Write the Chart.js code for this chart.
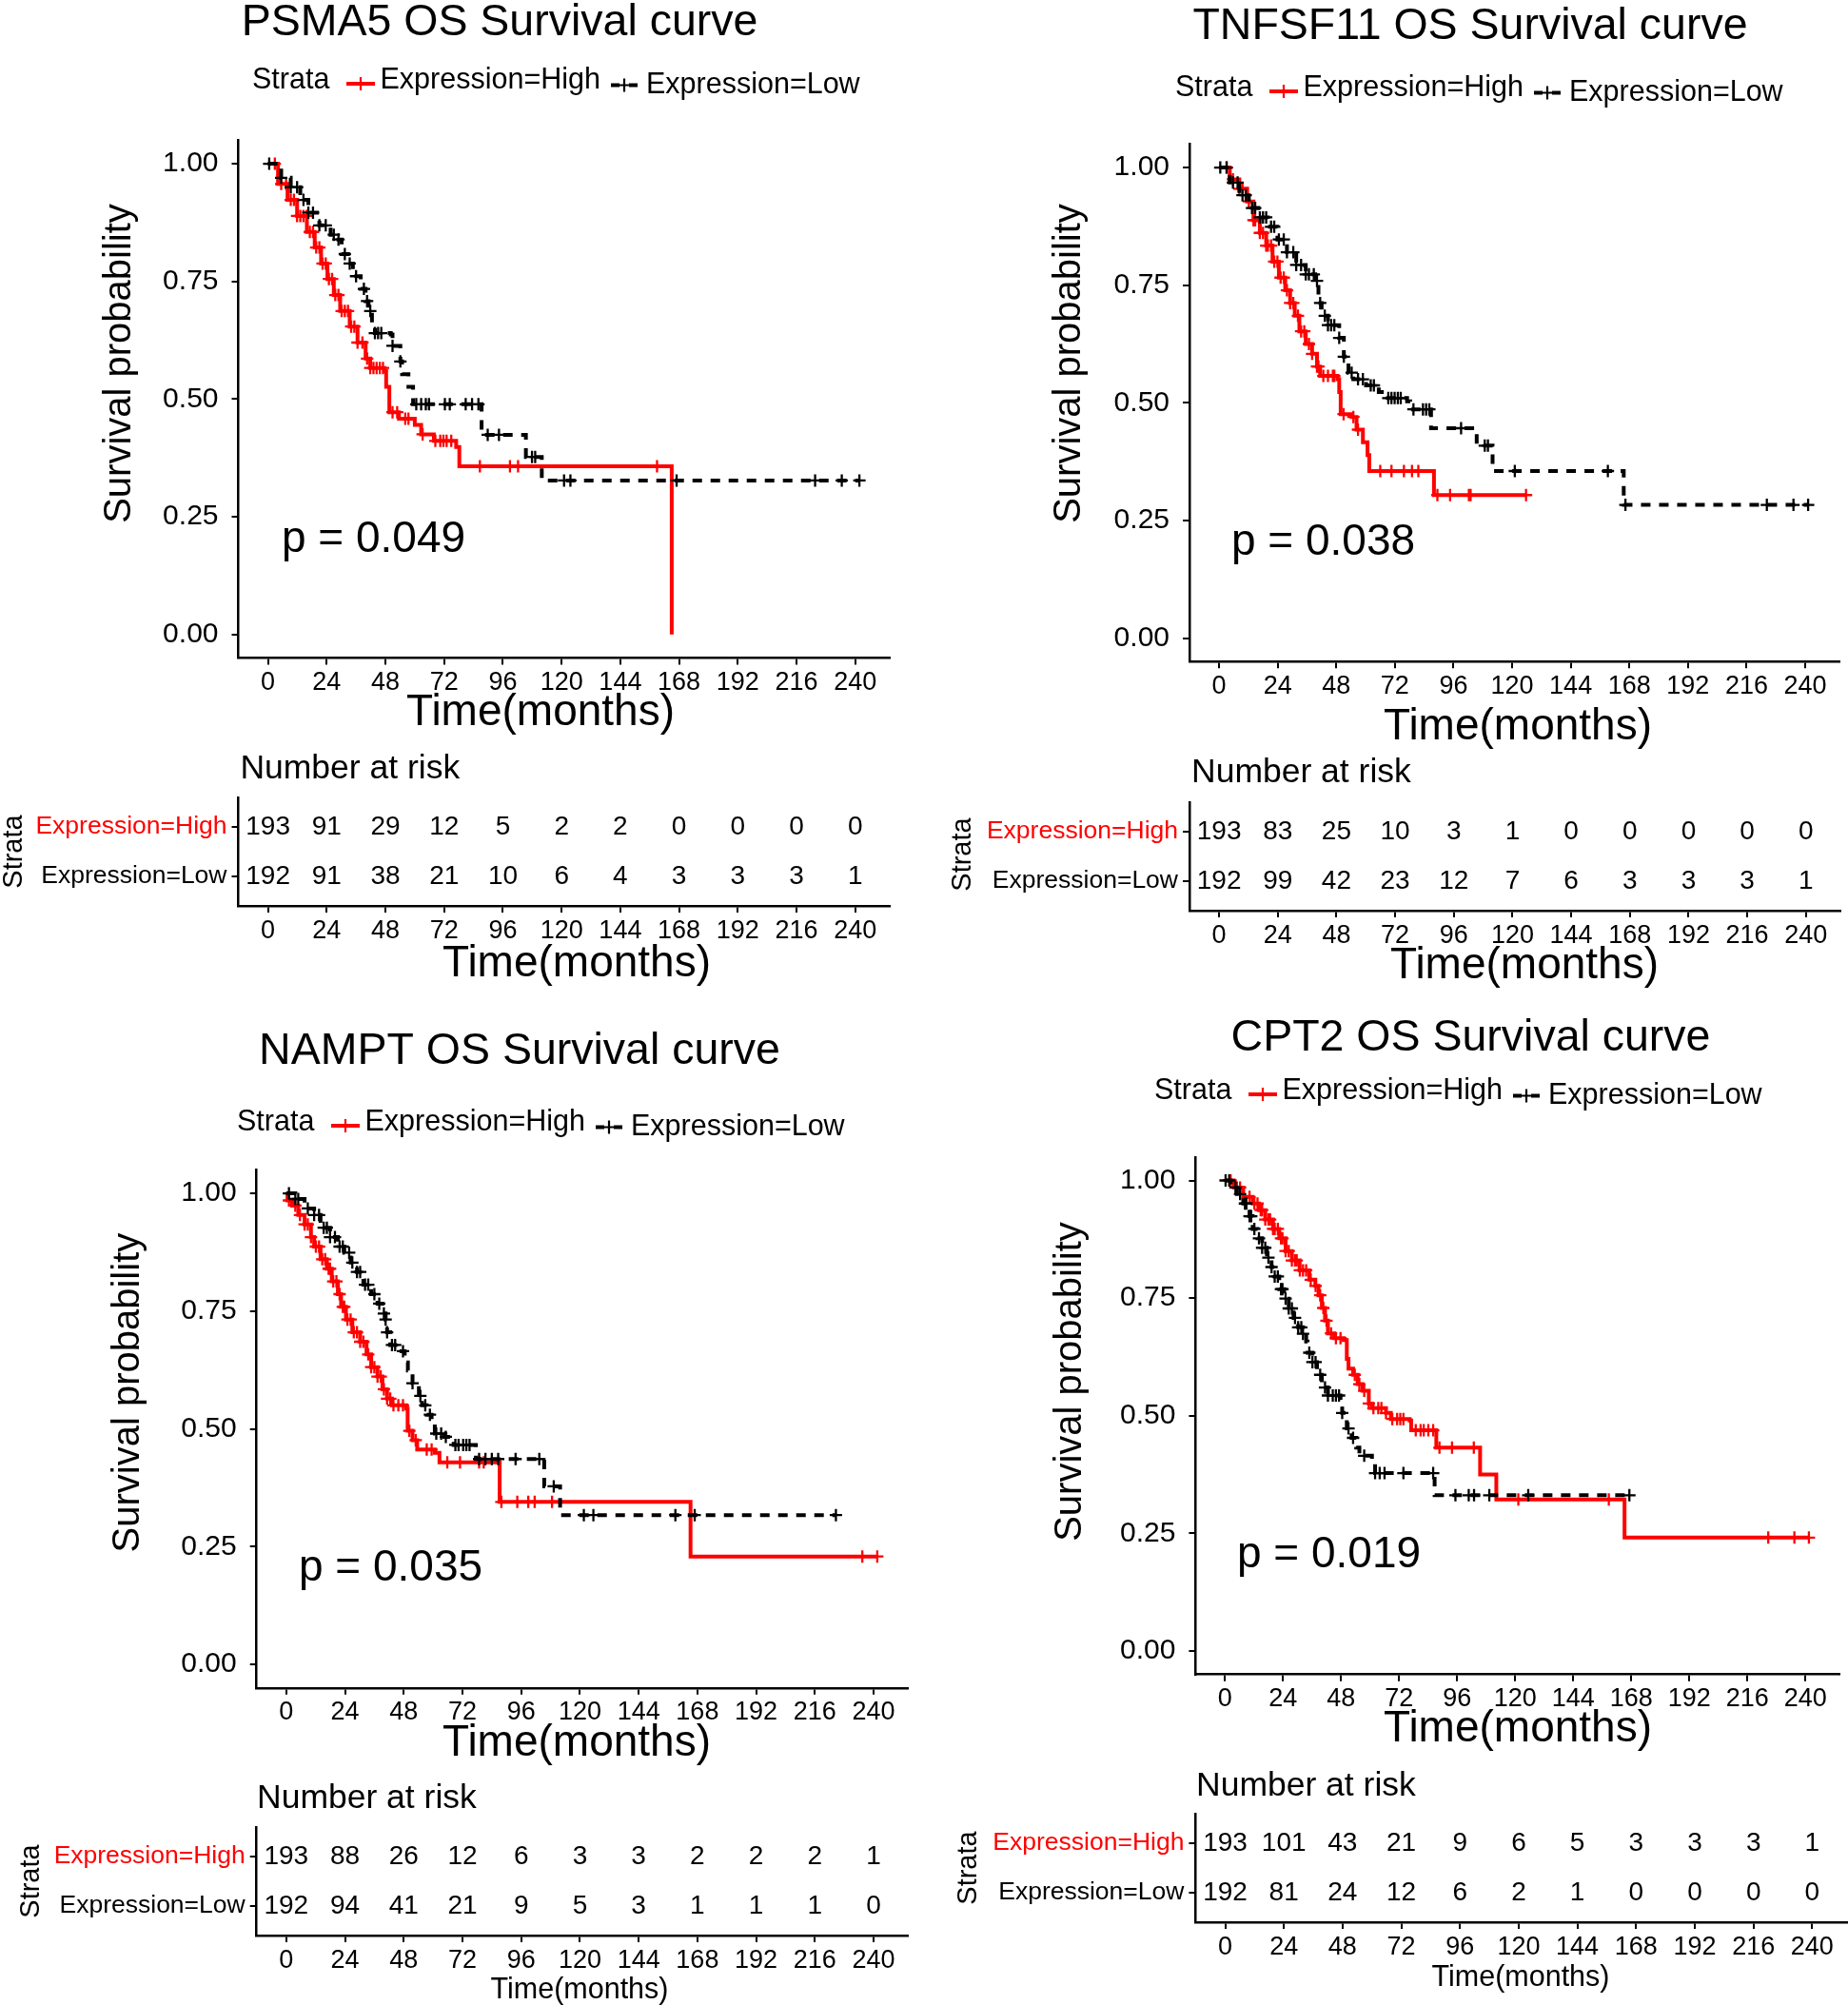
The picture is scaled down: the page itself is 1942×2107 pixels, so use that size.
<!DOCTYPE html>
<html><head><meta charset="utf-8">
<script src="https://cdn.jsdelivr.net/npm/chart.js@4.4.1/dist/chart.umd.min.js"></script>
<style>
html,body{margin:0;padding:0;background:#fff;}
body{width:1942px;height:2107px;position:relative;overflow:hidden;}
canvas{position:absolute;}
</style></head><body>
<script>
// ---------- shared tick / label data ----------
const timeTicks = [0, 24, 48, 72, 96, 120, 144, 168, 192, 216, 240];
const survTicks = [0, 0.25, 0.5, 0.75, 1];
const survLabels = ['0.00', '0.25', '0.50', '0.75', '1.00'];
const strataLabels = ['Expression=High', 'Expression=Low'];

// ---------- PSMA5 ----------
const p1HighT = [0, 4.1, 8.0, 11.9, 15.9, 19.1, 21.7, 24.3, 26.9, 29.5, 33.4, 36.6, 39.9, 41.8, 47.6, 48.3, 49.6, 53.5, 60.0, 62.6, 67.8, 76.9, 78.2, 165];
const p1HighS = [1, 0.957, 0.923, 0.889, 0.855, 0.822, 0.788, 0.755, 0.721, 0.687, 0.654, 0.620, 0.586, 0.566, 0.560, 0.526, 0.472, 0.458, 0.445, 0.425, 0.411, 0.398, 0.357, 0];
const p1HighC = [2.8, 5.4, 7.4, 9.3, 10.6, 11.9, 13.2, 14.5, 15.8, 17.1, 18.4, 19.7, 21.0, 22.3, 23.6, 24.9, 26.2, 27.5, 28.8, 30.1, 31.4, 32.7, 34.0, 35.3, 36.6, 38.6, 40.5, 41.8, 43.1, 44.4, 45.7, 47.0, 50.9, 52.8, 56.1, 57.4, 63.2, 68.4, 70.4, 71.7, 73.0, 74.9, 86.6, 98.9, 102.2, 159];
const p1LowT = [0, 5.4, 9.3, 13.2, 16.5, 21.0, 25.6, 28.8, 30.1, 32.7, 34.7, 37.9, 39.9, 41.1, 42.5, 43.7, 50.2, 50.9, 54.1, 54.8, 57.4, 59.3, 87.3, 105.4, 111.9, 241.7];
const p1LowS = [1, 0.970, 0.950, 0.923, 0.896, 0.869, 0.849, 0.839, 0.808, 0.788, 0.761, 0.734, 0.708, 0.687, 0.660, 0.640, 0.637, 0.613, 0.580, 0.553, 0.526, 0.489, 0.424, 0.377, 0.327, 0.327];
const p1LowC = [0.5, 5.4, 9.3, 11.9, 14.5, 16.5, 18.4, 21.0, 23.6, 26.9, 28.8, 31.4, 33.4, 36.0, 39.2, 40.5, 41.8, 43.7, 45.0, 46.3, 50.9, 54.1, 60.6, 62.6, 64.5, 65.8, 72.3, 74.3, 80.8, 83.4, 86.0, 89.8, 94.4, 107.9, 109.2, 121.0, 123.6, 167, 223.6, 234.5, 241.7];
const p1RiskHigh = [193, 91, 29, 12, 5, 2, 2, 0, 0, 0, 0];
const p1RiskLow = [192, 91, 38, 21, 10, 6, 4, 3, 3, 3, 1];

// ---------- TNFSF11 ----------
const p2HighT = [0, 4.4, 8.3, 11.5, 14.1, 16.7, 19.3, 21.9, 24.5, 27.1, 29.1, 31.0, 32.9, 35.5, 38.1, 40.1, 41.4, 48.5, 49.2, 49.8, 54.3, 56.3, 58.9, 60.8, 61.5, 88.0, 125.7];
const p2HighS = [1, 0.975, 0.955, 0.928, 0.888, 0.861, 0.834, 0.800, 0.766, 0.739, 0.712, 0.685, 0.652, 0.625, 0.604, 0.577, 0.557, 0.550, 0.523, 0.476, 0.470, 0.443, 0.416, 0.389, 0.355, 0.304, 0.304];
const p2HighC = [3.1, 5.7, 8.3, 9.6, 12.2, 14.1, 14.8, 16.7, 18.0, 19.3, 20.0, 21.3, 22.6, 23.9, 25.2, 26.5, 27.8, 29.1, 30.4, 32.3, 33.6, 34.9, 36.8, 38.1, 40.1, 40.7, 42.7, 44.6, 46.6, 47.2, 51.0, 55.0, 56.9, 66.0, 70.6, 75.7, 79.0, 81.6, 89.4, 94.6, 102.3, 103.0, 125.7];
const p2LowT = [0, 4.4, 8.3, 12.2, 16.1, 20.0, 23.9, 27.8, 31.6, 35.5, 39.4, 40.7, 42.0, 44.6, 49.2, 51.1, 53.0, 55.0, 60.2, 65.4, 68.0, 77.0, 78.3, 86.8, 105.5, 112.0, 165.7, 241.2];
const p2LowS = [1, 0.968, 0.941, 0.914, 0.894, 0.874, 0.847, 0.820, 0.793, 0.773, 0.759, 0.712, 0.685, 0.665, 0.638, 0.598, 0.564, 0.550, 0.537, 0.523, 0.510, 0.503, 0.486, 0.446, 0.409, 0.355, 0.283, 0.283];
const p2LowC = [0.5, 3.1, 5.7, 7.6, 9.6, 10.9, 13.5, 14.8, 16.7, 18.0, 19.3, 21.3, 22.6, 24.5, 26.5, 27.8, 30.4, 31.6, 33.6, 35.5, 36.8, 38.8, 40.1, 41.4, 43.3, 44.6, 45.9, 47.2, 49.2, 51.1, 54.3, 56.9, 58.9, 62.1, 63.4, 69.3, 70.6, 71.9, 73.2, 74.4, 79.6, 83.5, 84.8, 86.1, 99.1, 108.8, 110.1, 121.1, 159.2, 166.4, 224.3, 235.2, 241.2];
const p2RiskHigh = [193, 83, 25, 10, 3, 1, 0, 0, 0, 0, 0];
const p2RiskLow = [192, 99, 42, 23, 12, 7, 6, 3, 3, 3, 1];

// ---------- NAMPT ----------
const p3HighT = [0, 0.5, 2.4, 4.9, 7.5, 10.1, 11.4, 14.0, 16.6, 18.6, 21.1, 22.4, 24.4, 27.0, 30.2, 32.8, 34.7, 37.3, 39.3, 41.2, 43.2, 49.0, 49.6, 51.6, 53.5, 60.7, 62.6, 87.2, 165.2, 241.5];
const p3HighS = [1, 0.985, 0.974, 0.954, 0.934, 0.907, 0.887, 0.860, 0.840, 0.813, 0.786, 0.759, 0.732, 0.705, 0.685, 0.658, 0.631, 0.611, 0.584, 0.564, 0.550, 0.543, 0.496, 0.476, 0.456, 0.449, 0.429, 0.345, 0.229, 0.229];
const p3HighC = [1.1, 3.7, 5.6, 7.5, 8.8, 10.1, 12.1, 13.4, 14.7, 15.9, 17.3, 17.9, 19.2, 20.5, 21.8, 23.1, 23.7, 25.0, 26.3, 27.6, 28.9, 30.2, 31.5, 33.5, 34.7, 36.0, 37.3, 38.6, 39.9, 41.2, 42.5, 43.8, 45.8, 47.7, 50.3, 52.9, 57.4, 59.4, 65.8, 71.0, 78.8, 80.7, 87.9, 94.4, 98.9, 101.5, 108.6, 235.4, 241.5];
const p3LowT = [0, 3.7, 7.5, 11.4, 14.0, 17.9, 21.1, 23.7, 26.3, 28.9, 31.5, 34.7, 37.3, 39.3, 40.6, 41.2, 42.5, 47.1, 48.4, 49.7, 51.6, 54.2, 55.5, 57.4, 59.4, 60.7, 64.6, 68.4, 77.5, 105.4, 111.9, 224.6];
const p3LowS = [1, 0.988, 0.968, 0.954, 0.927, 0.907, 0.887, 0.874, 0.853, 0.833, 0.806, 0.786, 0.766, 0.745, 0.732, 0.705, 0.678, 0.665, 0.641, 0.624, 0.597, 0.570, 0.550, 0.530, 0.516, 0.490, 0.483, 0.466, 0.436, 0.378, 0.317, 0.317];
const p3LowC = [1.1, 3.7, 4.9, 8.8, 11.4, 13.4, 15.3, 16.6, 17.9, 19.9, 21.8, 23.1, 25.7, 27.0, 28.9, 30.2, 32.2, 33.5, 36.0, 38.0, 39.9, 40.6, 41.2, 43.2, 44.5, 47.7, 51.6, 54.8, 56.8, 58.7, 61.3, 63.3, 65.2, 69.1, 70.4, 72.3, 73.6, 74.9, 78.8, 81.4, 84.0, 86.6, 93.7, 103.4, 109.3, 121.6, 125.5, 159, 166.9, 224.6];
const p3RiskHigh = [193, 88, 26, 12, 6, 3, 3, 2, 2, 2, 1];
const p3RiskLow = [192, 94, 41, 21, 9, 5, 3, 1, 1, 1, 0];

// ---------- CPT2 ----------
const p4HighT = [0, 3.7, 7.6, 11.5, 14.1, 16.7, 19.9, 22.5, 25.1, 27.7, 30.9, 34.9, 37.4, 38.7, 40.1, 41.4, 42.6, 45.2, 49.1, 50.4, 51.1, 53.0, 54.9, 56.9, 59.5, 60.8, 66.6, 68.6, 76.4, 77.0, 87.4, 105.5, 112.2, 165.2, 241.4];
const p4HighS = [1, 0.985, 0.965, 0.951, 0.937, 0.917, 0.897, 0.877, 0.850, 0.830, 0.809, 0.789, 0.776, 0.756, 0.729, 0.702, 0.675, 0.665, 0.661, 0.621, 0.600, 0.587, 0.567, 0.553, 0.526, 0.516, 0.506, 0.493, 0.490, 0.469, 0.432, 0.375, 0.322, 0.241, 0.241];
const p4HighC = [2.4, 5.0, 6.3, 10.2, 12.2, 13.5, 14.8, 15.4, 16.7, 18.0, 18.7, 19.9, 20.6, 21.9, 23.2, 23.8, 25.1, 26.4, 27.7, 29.0, 29.7, 31.0, 32.3, 33.6, 35.5, 37.5, 39.4, 40.7, 42.0, 43.9, 45.9, 47.8, 53.7, 55.6, 57.6, 59.5, 61.4, 63.4, 64.7, 66.6, 69.2, 71.2, 72.5, 73.8, 78.9, 80.9, 82.2, 84.1, 86.1, 88.7, 93.9, 102.9, 121.3, 158.7, 224.6, 235.4, 241.4];
const p4LowT = [0, 2.4, 5.0, 7.6, 10.2, 11.5, 13.5, 15.4, 17.4, 19.3, 20.6, 22.5, 24.5, 26.4, 28.4, 30.3, 32.3, 33.6, 34.2, 36.2, 38.1, 40.1, 42.6, 47.8, 48.5, 50.4, 52.4, 54.3, 55.6, 60.8, 62.1, 86.7, 167.2];
const p4LowS = [1, 0.985, 0.971, 0.951, 0.924, 0.897, 0.877, 0.857, 0.836, 0.816, 0.796, 0.769, 0.749, 0.728, 0.708, 0.688, 0.674, 0.658, 0.634, 0.614, 0.587, 0.560, 0.543, 0.530, 0.506, 0.473, 0.453, 0.432, 0.415, 0.402, 0.378, 0.331, 0.331];
const p4LowC = [0.3, 1.8, 4.4, 6.3, 8.3, 8.9, 10.2, 10.9, 12.2, 14.1, 15.4, 16.7, 18.0, 19.3, 20.6, 21.9, 23.2, 23.8, 25.1, 26.4, 27.7, 29.0, 30.3, 31.6, 32.3, 34.9, 36.2, 37.5, 39.4, 41.4, 42.6, 44.6, 45.9, 47.2, 48.5, 51.1, 53.0, 57.6, 62.1, 64.0, 66.0, 73.8, 86.1, 95.3, 100.8, 103.0, 109.3, 125.4, 167.2];
const p4RiskHigh = [193, 101, 43, 21, 9, 6, 5, 3, 3, 3, 1];
const p4RiskLow = [192, 81, 24, 12, 6, 2, 1, 0, 0, 0, 0];

// ---------- rendering ----------
const FONT = '"Liberation Sans", Arial, Helvetica, sans-serif';
const RED = '#FF0000';
const BLK = '#000000';
const XMIN = -12.1, XMAX = 254.1;
Chart.defaults.font.family = FONT;
Chart.defaults.color = BLK;

function stepValue(T, S, t) {
  let v = S[0];
  for (let i = 0; i < T.length; i++) { if (T[i] <= t) v = S[i]; else break; }
  return v;
}

function makeCanvas(r) {
  const c = document.createElement('canvas');
  c.width = r.w; c.height = r.h;
  c.style.left = r.x + 'px'; c.style.top = r.y + 'px';
  c.style.width = r.w + 'px'; c.style.height = r.h + 'px';
  document.body.appendChild(c);
  return c;
}

function drawSym(ctx, s, ox, oy) {
  const x1 = s.x1 - ox, x2 = s.x2 - ox, y = s.y - oy, cx = (x1 + x2) / 2;
  ctx.strokeStyle = s.color; ctx.lineCap = 'butt';
  ctx.lineWidth = 4;
  ctx.setLineDash(s.dash ? [9, 10] : []);
  ctx.beginPath(); ctx.moveTo(x1, y); ctx.lineTo(x2, y); ctx.stroke();
  ctx.setLineDash([]);
  ctx.lineWidth = 2.2;
  ctx.beginPath(); ctx.moveTo(cx, y - 7); ctx.lineTo(cx, y + 7);
  ctx.moveTo(cx - 7, y); ctx.lineTo(cx + 7, y); ctx.stroke();
}

function textPlugin(items, r) {
  return {
    id: 'texts',
    afterDraw(chart) {
      const ctx = chart.ctx;
      items.forEach(it => {
        ctx.save();
        if (it.sym) { drawSym(ctx, it, r.x, r.y); }
        else {
          ctx.font = it.size + 'px ' + FONT;
          ctx.fillStyle = it.color || BLK;
          ctx.textAlign = it.align || 'left';
          ctx.textBaseline = 'alphabetic';
          ctx.translate(it.x - r.x, it.y - r.y);
          if (it.rot) ctx.rotate(it.rot);
          ctx.fillText(it.t, 0, 0);
        }
        ctx.restore();
      });
    }
  };
}

function riskPlugin(high, low) {
  return {
    id: 'risk',
    afterDatasetsDraw(chart) {
      const ctx = chart.ctx;
      ctx.save();
      ctx.font = '28px ' + FONT; ctx.fillStyle = BLK;
      ctx.textAlign = 'center'; ctx.textBaseline = 'middle';
      [high, low].forEach((vals, di) => {
        chart.getDatasetMeta(di).data.forEach((el, i) => ctx.fillText(String(vals[i]), el.x, el.y));
      });
      ctx.restore();
    }
  };
}

function xScale(r, a, size) {
  return {
    type: 'linear', min: XMIN, max: XMAX,
    afterFit(s) { s.height = r.y + r.h - a.b; },
    afterBuildTicks(s) { s.ticks = timeTicks.map(v => ({ value: v })); },
    ticks: { font: { size: size }, color: BLK, padding: 3, maxRotation: 0, autoSkip: false, callback: (v, i) => String(timeTicks[i]) },
    grid: { drawOnChartArea: false, drawTicks: true, tickLength: 7, color: BLK, lineWidth: 2 },
    border: { display: true, color: BLK, width: 2.5 }
  };
}

function kmChart(p) {
  const r = p.rect, a = p.area;
  const c = makeCanvas(r);
  const datasets = [
    { type: 'scatter', data: p.lowC.map(t => ({ x: t, y: stepValue(p.lowT, p.lowS, t) })), pointStyle: 'cross', pointRadius: 6.5, borderColor: BLK, borderWidth: 2.3, backgroundColor: BLK },
    { type: 'line', data: p.lowT.map((t, i) => ({ x: t, y: p.lowS[i] })), stepped: 'before', borderColor: BLK, borderWidth: 4, borderDash: [10, 9], borderCapStyle: 'butt', borderJoinStyle: 'miter', pointRadius: 0, fill: false },
    { type: 'scatter', data: p.highC.map(t => ({ x: t, y: stepValue(p.highT, p.highS, t) })), pointStyle: 'cross', pointRadius: 6.5, borderColor: RED, borderWidth: 2.3, backgroundColor: RED },
    { type: 'line', data: p.highT.map((t, i) => ({ x: t, y: p.highS[i] })), stepped: 'before', borderColor: RED, borderWidth: 4, borderCapStyle: 'butt', borderJoinStyle: 'miter', pointRadius: 0, fill: false }
  ];
  new Chart(c, {
    type: 'scatter',
    data: { datasets },
    options: {
      responsive: false, animation: false, events: [],
      layout: { padding: { left: 0, top: a.t - r.y, right: r.x + r.w - a.r, bottom: 0 } },
      plugins: { legend: { display: false }, tooltip: { enabled: false }, title: { display: false } },
      scales: {
        x: xScale(r, a, 27),
        y: {
          type: 'linear', min: -0.05, max: 1.05,
          afterFit(s) { s.width = a.l - r.x; },
          afterBuildTicks(s) { s.ticks = survTicks.map(v => ({ value: v })); },
          ticks: { font: { size: 30 }, color: BLK, padding: 14, callback: (v, i) => survLabels[i] },
          grid: { drawOnChartArea: false, drawTicks: true, tickLength: 7, color: BLK, lineWidth: 2 },
          border: { display: true, color: BLK, width: 2.5 }
        }
      }
    },
    plugins: [textPlugin(p.texts, r)]
  });
}

function tableChart(p) {
  const r = p.rect, a = p.area;
  const c = makeCanvas(r);
  const datasets = [
    { type: 'scatter', data: timeTicks.map(t => ({ x: t, y: 2 })), pointRadius: 0 },
    { type: 'scatter', data: timeTicks.map(t => ({ x: t, y: 1 })), pointRadius: 0 }
  ];
  new Chart(c, {
    type: 'scatter',
    data: { datasets },
    options: {
      responsive: false, animation: false, events: [],
      layout: { padding: { left: 0, top: a.t - r.y, right: r.x + r.w - a.r, bottom: 0 } },
      plugins: { legend: { display: false }, tooltip: { enabled: false }, title: { display: false } },
      scales: {
        x: xScale(r, a, 27),
        y: {
          type: 'linear', min: 0.4, max: 2.6,
          afterFit(s) { s.width = a.l - r.x; },
          afterBuildTicks(s) { s.ticks = [{ value: 1 }, { value: 2 }]; },
          ticks: {
            font: { size: 26.5 }, padding: 5,
            color: (ctx) => (ctx.tick && ctx.tick.value === 2) ? RED : BLK,
            callback: (v) => v === 2 ? strataLabels[0] : strataLabels[1]
          },
          grid: { drawOnChartArea: false, drawTicks: true, tickLength: 7, color: BLK, lineWidth: 2 },
          border: { display: true, color: BLK, width: 2.5 }
        }
      }
    },
    plugins: [riskPlugin(p.riskHigh, p.riskLow), textPlugin(p.texts, r)]
  });
}

function legendItems(sx, by) {
  return [
    { t: 'Strata', x: sx, y: by, size: 30.5 },
    { sym: true, color: RED, dash: false, x1: sx + 99, x2: sx + 129, y: by - 5 },
    { t: 'Expression=High', x: sx + 134.5, y: by - 0.5, size: 30.5 },
    { sym: true, color: BLK, dash: true, x1: sx + 377, x2: sx + 405, y: by - 3.5 },
    { t: 'Expression=Low', x: sx + 414, y: by + 4.5, size: 30.5 }
  ];
}

const ROT = -Math.PI / 2;

// Panel 1: PSMA5
kmChart({
  rect: { x: 0, y: 0, w: 970, h: 790 }, area: { l: 250.5, t: 147.3, r: 935, b: 691.4 },
  highT: p1HighT, highS: p1HighS, highC: p1HighC, lowT: p1LowT, lowS: p1LowS, lowC: p1LowC,
  texts: [
    { t: 'PSMA5 OS Survival curve', x: 525, y: 37, size: 46.5, align: 'center' },
    ...legendItems(265, 93),
    { t: 'Survival probability', x: 137, y: 382, size: 40, align: 'center', rot: ROT },
    { t: 'Time(months)', x: 568, y: 762, size: 46, align: 'center' },
    { t: 'p = 0.049', x: 296, y: 580, size: 46 }
  ]
});
tableChart({
  rect: { x: 0, y: 775, w: 970, h: 275 }, area: { l: 250.5, t: 838, r: 935, b: 952 },
  riskHigh: p1RiskHigh, riskLow: p1RiskLow,
  texts: [
    { t: 'Number at risk', x: 252.4, y: 818, size: 35.5 },
    { t: 'Strata', x: 23, y: 895, size: 29, align: 'center', rot: ROT },
    { t: 'Time(months)', x: 606, y: 1026, size: 46, align: 'center' }
  ]
});

// Panel 2: TNFSF11
kmChart({
  rect: { x: 970, y: 0, w: 972, h: 795 }, area: { l: 1250, t: 151.3, r: 1934, b: 695.3 },
  highT: p2HighT, highS: p2HighS, highC: p2HighC, lowT: p2LowT, lowS: p2LowS, lowC: p2LowC,
  texts: [
    { t: 'TNFSF11 OS Survival curve', x: 1545, y: 41, size: 46.5, align: 'center' },
    ...legendItems(1235, 101),
    { t: 'Survival probability', x: 1135, y: 382, size: 40, align: 'center', rot: ROT },
    { t: 'Time(months)', x: 1595, y: 777, size: 46, align: 'center' },
    { t: 'p = 0.038', x: 1294, y: 583, size: 46 }
  ]
});
tableChart({
  rect: { x: 970, y: 780, w: 972, h: 270 }, area: { l: 1250, t: 843, r: 1934, b: 957 },
  riskHigh: p2RiskHigh, riskLow: p2RiskLow,
  texts: [
    { t: 'Number at risk', x: 1252, y: 822, size: 35.5 },
    { t: 'Strata', x: 1020, y: 898, size: 29, align: 'center', rot: ROT },
    { t: 'Time(months)', x: 1602, y: 1028, size: 46, align: 'center' }
  ]
});

// Panel 3: NAMPT
kmChart({
  rect: { x: 0, y: 1060, w: 970, h: 800 }, area: { l: 269.7, t: 1229.3, r: 954.3, b: 1773.8 },
  highT: p3HighT, highS: p3HighS, highC: p3HighC, lowT: p3LowT, lowS: p3LowS, lowC: p3LowC,
  texts: [
    { t: 'NAMPT OS Survival curve', x: 546, y: 1118, size: 46.5, align: 'center' },
    ...legendItems(249, 1188),
    { t: 'Survival probability', x: 146, y: 1463.6, size: 40, align: 'center', rot: ROT },
    { t: 'Time(months)', x: 606, y: 1845, size: 46, align: 'center' },
    { t: 'p = 0.035', x: 314, y: 1661, size: 46 }
  ]
});
tableChart({
  rect: { x: 0, y: 1855, w: 970, h: 252 }, area: { l: 269.7, t: 1920, r: 954.3, b: 2034 },
  riskHigh: p3RiskHigh, riskLow: p3RiskLow,
  texts: [
    { t: 'Number at risk', x: 270, y: 1900, size: 35.5 },
    { t: 'Strata', x: 41, y: 1977, size: 29, align: 'center', rot: ROT },
    { t: 'Time(months)', x: 609, y: 2100, size: 30.5, align: 'center' }
  ]
});

// Panel 4: CPT2
kmChart({
  rect: { x: 970, y: 1040, w: 972, h: 800 }, area: { l: 1256.4, t: 1215.8, r: 1940.6, b: 1759.7 },
  highT: p4HighT, highS: p4HighS, highC: p4HighC, lowT: p4LowT, lowS: p4LowS, lowC: p4LowC,
  texts: [
    { t: 'CPT2 OS Survival curve', x: 1545.5, y: 1104, size: 46.5, align: 'center' },
    ...legendItems(1213, 1155),
    { t: 'Survival probability', x: 1136, y: 1452, size: 40, align: 'center', rot: ROT },
    { t: 'Time(months)', x: 1595, y: 1830, size: 46, align: 'center' },
    { t: 'p = 0.019', x: 1300, y: 1647, size: 46 }
  ]
});
tableChart({
  rect: { x: 970, y: 1840, w: 972, h: 267 }, area: { l: 1256.4, t: 1906, r: 1940.6, b: 2020 },
  riskHigh: p4RiskHigh, riskLow: p4RiskLow,
  texts: [
    { t: 'Number at risk', x: 1257, y: 1887, size: 35.5 },
    { t: 'Strata', x: 1026, y: 1963, size: 29, align: 'center', rot: ROT },
    { t: 'Time(months)', x: 1598, y: 2087, size: 30.5, align: 'center' }
  ]
});
</script>
</body></html>
